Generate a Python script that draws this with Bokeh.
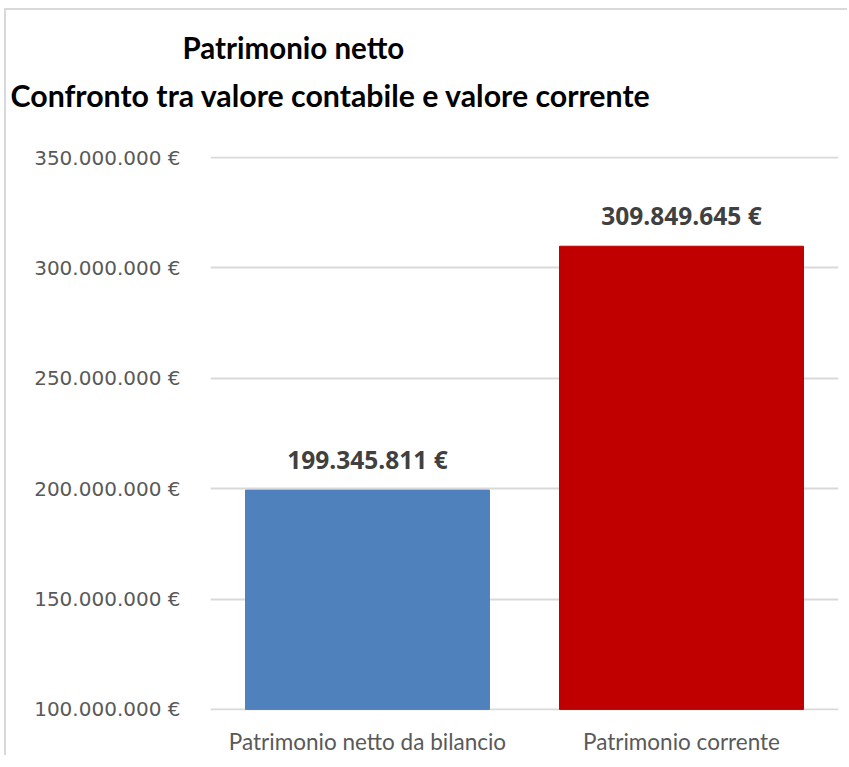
from bokeh.plotting import figure
from bokeh.models import ColumnDataSource, FixedTicker, LabelSet, Title, Range1d
from bokeh.core.properties import value
from bokeh.embed import file_html
from bokeh.resources import INLINE

title_text = "Patrimonio netto"
subtitle_text = "Confronto tra valore contabile e valore corrente"
categories = ["Patrimonio netto da bilancio", "Patrimonio corrente"]
values = [199345811, 309849645]
colors = ["#4F81BD", "#C00000"]
y_ticks = [100000000, 150000000, 200000000, 250000000, 300000000, 350000000]
y_tick_labels = ["100.000.000 €", "150.000.000 €", "200.000.000 €",
                 "250.000.000 €", "300.000.000 €", "350.000.000 €"]


def fmt(v):
    return f"{v:,}".replace(",", ".") + " €"


source = ColumnDataSource(dict(cat=categories, val=values, color=colors,
                               label=[fmt(v) for v in values]))

pad = 0.002 * (y_ticks[-1] - y_ticks[0])
p = figure(x_range=categories, y_range=Range1d(y_ticks[0] - pad, y_ticks[-1] + pad),
           width=843, height=747, output_backend="svg", toolbar_location=None,
           min_border_left=204, min_border_right=11, min_border_top=146,
           min_border_bottom=44)
p.styles = {"border-top": "2px solid #d9d9d9", "border-left": "2px solid #d9d9d9",
            "margin-top": "8px", "margin-left": "4px"}

p.vbar(x="cat", top="val", bottom=y_ticks[0], width=0.777, color="color", source=source)

p.add_layout(LabelSet(x="cat", y="val", text="label", source=source,
                      text_align="center", text_baseline="bottom", y_offset=14,
                      text_font=value("Open Sans"), text_font_style="bold",
                      text_font_size="24.5px", text_color="#404040"))

sub = Title(text=subtitle_text, align="left",
            offset=-200, standoff=88, text_font="Lato", text_font_style="bold",
            text_font_size="30.3px", text_color="#000000")
main = Title(text=title_text, align="left", offset=-28, standoff=-68,
             text_font="Lato", text_font_style="bold",
             text_font_size="29.5px", text_color="#000000")
p.add_layout(sub, "above")
p.add_layout(main, "above")

p.outline_line_color = None
p.xgrid.grid_line_color = None
p.ygrid.grid_line_color = "#d9d9d9"
p.ygrid.grid_line_width = 2
p.yaxis.ticker = FixedTicker(ticks=y_ticks)
p.ygrid.ticker = FixedTicker(ticks=y_ticks)
p.yaxis.major_label_overrides = {t: l for t, l in zip(y_ticks, y_tick_labels)}

for ax in (p.xaxis, p.yaxis):
    ax.axis_line_color = None
    ax.major_tick_line_color = None
    ax.minor_tick_line_color = None
    ax.major_label_text_color = "#595959"

p.yaxis.major_label_text_font = "DejaVu Sans"
p.yaxis.major_label_text_font_size = "20px"
p.yaxis.major_label_standoff = 24
p.xaxis.major_label_text_font = "Lato"
p.xaxis.major_label_text_font_size = "22.5px"
p.xaxis.major_label_standoff = 11

open("out.html", "w").write(file_html(p, INLINE))
